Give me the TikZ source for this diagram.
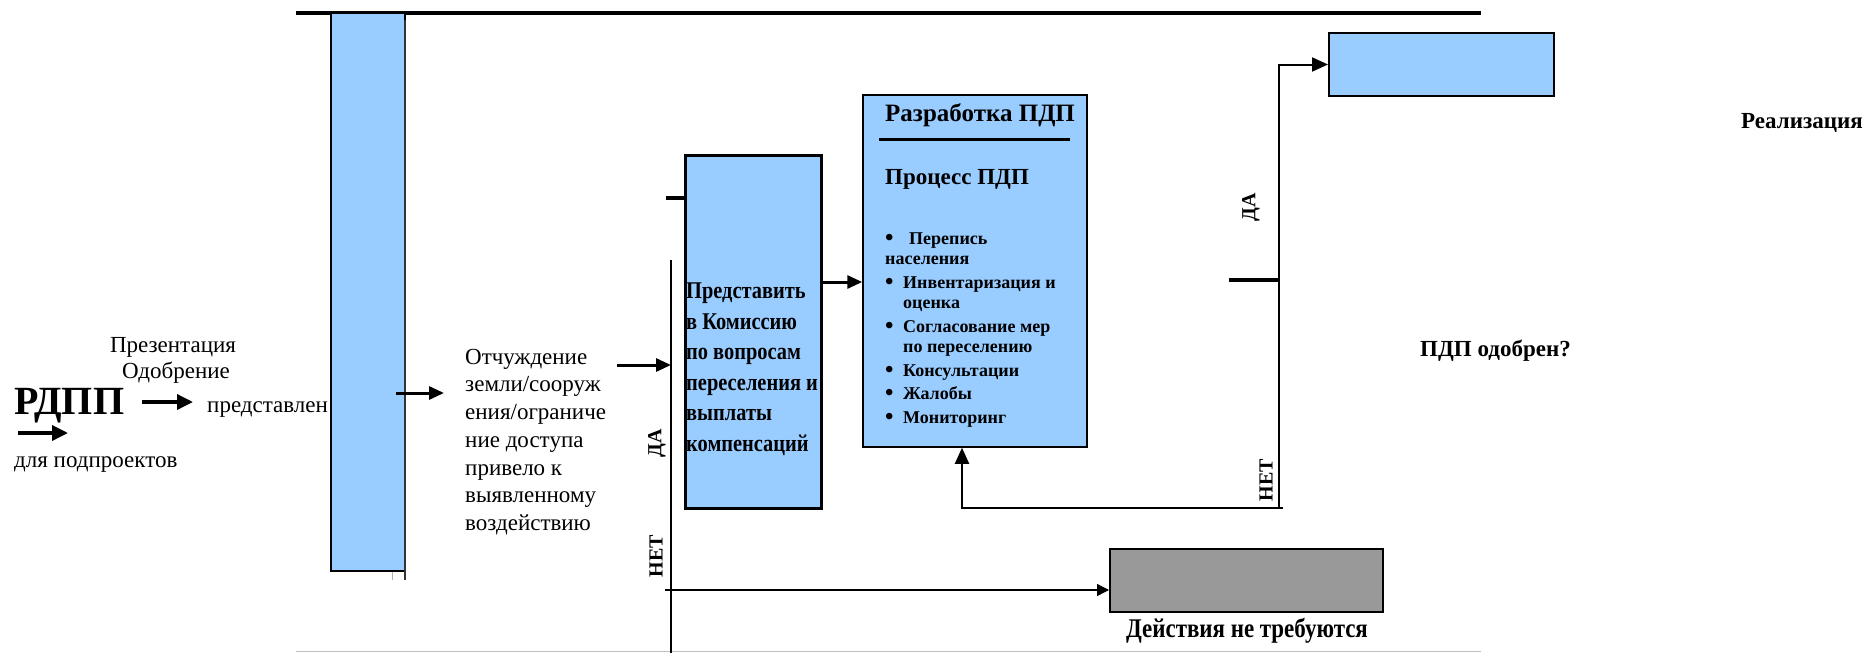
\documentclass[tikz,border=0pt]{standalone}
\usepackage{fontspec}
\setmainfont{Liberation Serif}
\newfontfamily\narrowfont[FakeStretch=0.85]{Liberation Serif}
\usetikzlibrary{arrows.meta,positioning}
\definecolor{boxblue}{HTML}{99CCFF}
\definecolor{boxgrey}{HTML}{999999}
\newcommand{\pdpbullet}[1]{\makebox[#1][l]{\fontsize{24}{0}\selectfont\raisebox{-1pt}{•}}}

\begin{document}
\begin{tikzpicture}[x=1pt,y=-1pt,
  arr/.style={line width=3pt,-{Triangle[length=15pt,width=13pt]}},
  bigarr/.style={line width=3.5pt,-{Triangle[length=16pt,width=15pt]}},
  midarr/.style={line width=2pt,-{Triangle[length=16pt,width=14pt]}},
  thinarr/.style={line width=1.3pt,-{Triangle[length=12pt,width=12pt]}},
  tick/.style={line width=3.2pt},
  bluebox/.style={draw,fill=boxblue,inner sep=0pt},
  plain/.style={inner sep=0pt,align=left,font=\fontsize{23}{27.7}\selectfont},
  bold/.style={inner sep=0pt,align=left,font=\fontsize{23}{27}\selectfont\bfseries},
  yesno/.style={inner sep=0pt,rotate=90,font=\fontsize{20}{20}\selectfont\bfseries}]
\useasboundingbox (0,0) rectangle (1872,653);

% frame lines
\draw[line width=4.5pt] (296,13) -- (1481,13) ; % top
\draw[line width=1pt,black!25] (296,651) -- (1481,651) ; % bottom

% tall bar
\node[bluebox,line width=1.5pt,minimum width=74pt,minimum height=558pt] (tallbar) at (368,292) {};
\draw[line width=2pt,black!80] (405,20) -- (405,580) ;
\draw[line width=0.8pt,black!30] (392,572) -- (392,580) ;

% left texts
\node[plain,anchor=center] (prez) at (173,347) {Презентация};
\node[plain,anchor=center] (odobr) at (176,373) {Одобрение};
\node[inner sep=0pt,anchor=west,font=\fontsize{40}{40}\selectfont\bfseries] (rdpp) at (14,406) {РДПП};
\node[plain,anchor=west] (predst) at (207,410) {представлен};
\node[plain,anchor=west] (dlyapod) at (14,465) {для подпроектов};
\coordinate (rdppOut) at (142,402);
\draw[bigarr,shorten >=14pt] (rdppOut) -- (rdppOut -| predst.west) ;
\coordinate (subA) at (18,433);
\coordinate (subB) at (68,433);
\draw[bigarr] (subA) -- (subB) ;

\coordinate (barOut) at (396,393);
\node[plain,anchor=west] (otch) at (465,442) {Отчуждение\\земли/сооруж\\ения/ограниче\\ние доступа\\привело к\\выявленному\\воздействию};
\draw[arr,shorten >=21pt] (barOut) -- (barOut -| otch.west) ;

% left decision
\coordinate (decTop) at (671,260);
\coordinate (decBot) at (671,653);
\draw[line width=2.6pt] (decTop) -- (decBot) ;
\coordinate (otchOut) at (617,365);
\draw[arr] (otchOut) -- (otchOut -| decTop) ;
\node[yesno] (daL) at (657,443) {ДА};
\node[yesno] (netL) at (656,556) {НЕТ};

% commission
\node[bluebox,line width=3pt,minimum width=136pt,minimum height=353pt] (commbox) at (753,331.5) {};
\node[inner sep=0pt,anchor=west,align=left,font=\fontsize{24}{30.5}\selectfont\narrowfont\bfseries] (commtext) at (686,369) {Представить\\в Комиссию\\по вопросам\\переселения и\\выплаты\\компенсаций};
\coordinate (cTick) at (666,198);
\draw[tick] (cTick) -- (cTick -| commbox.west) ;

% PDP
\node[bluebox,line width=1.5pt,minimum width=224pt,minimum height=352pt] (pdpbox) at (975,271) {};
\coordinate (commOut) at (821,282);
\draw[arr] (commOut) -- (commOut -| pdpbox.west) ;
\node[inner sep=0pt,anchor=west,font=\fontsize{25}{25}\selectfont\bfseries] (pdptitle) at (885,115) {Разработка ПДП};
\draw[line width=3pt] (879,139) -- (1070,139) ;
\node[bold,anchor=west] (pdpproc) at (885,179) {Процесс ПДП};
\node[inner sep=0pt,anchor=west,align=left,font=\fontsize{18}{20.5}\selectfont\bfseries] (pdplist) at (885,330)
  {\pdpbullet{24pt}Перепись\\населения\\[3pt]
   \pdpbullet{18pt}Инвентаризация и\\\hspace*{18pt}оценка\\[3pt]
   \pdpbullet{18pt}Согласование мер\\\hspace*{18pt}по переселению\\[3pt]
   \pdpbullet{18pt}Консультации\\[3pt]
   \pdpbullet{18pt}Жалобы\\[3pt]
   \pdpbullet{18pt}Мониторинг};

% right decision
\coordinate (rBot) at (1279,508);
\coordinate (rEnd) at (1283,508);
\coordinate (fbX) at (962,508);
\node[bluebox,line width=2pt,minimum width=225pt,minimum height=63pt] (realbox) at (1441.5,64.5) {};
\draw[midarr] (rBot) |- (realbox.west) ;
\draw[midarr] (rEnd) -- (fbX) -- (fbX |- pdpbox.south) ;
\coordinate (rTick) at (1229,280);
\draw[tick] (rTick) -- (rTick -| rBot) ;
\node[yesno] (daR) at (1251,207) {ДА};
\node[yesno] (netR) at (1266,480) {НЕТ};
\node[bold,anchor=west] (realtext) at (1741,123) {Реализация};
\node[bold,anchor=west] (odobrq) at (1420,351) {ПДП одобрен?};

% no action
\node[draw,fill=boxgrey,line width=2pt,inner sep=0pt,minimum width=273pt,minimum height=63pt] (greybox) at (1246.5,580.5) {};
\coordinate (netOut) at (665,590);
\draw[thinarr] (netOut) -- (netOut -| greybox.west) ;
\node[inner sep=0pt,font=\fontsize{27}{27}\selectfont\narrowfont\bfseries] (noactext) at (1247,631) {Действия не требуются};
\end{tikzpicture}
\end{document}
